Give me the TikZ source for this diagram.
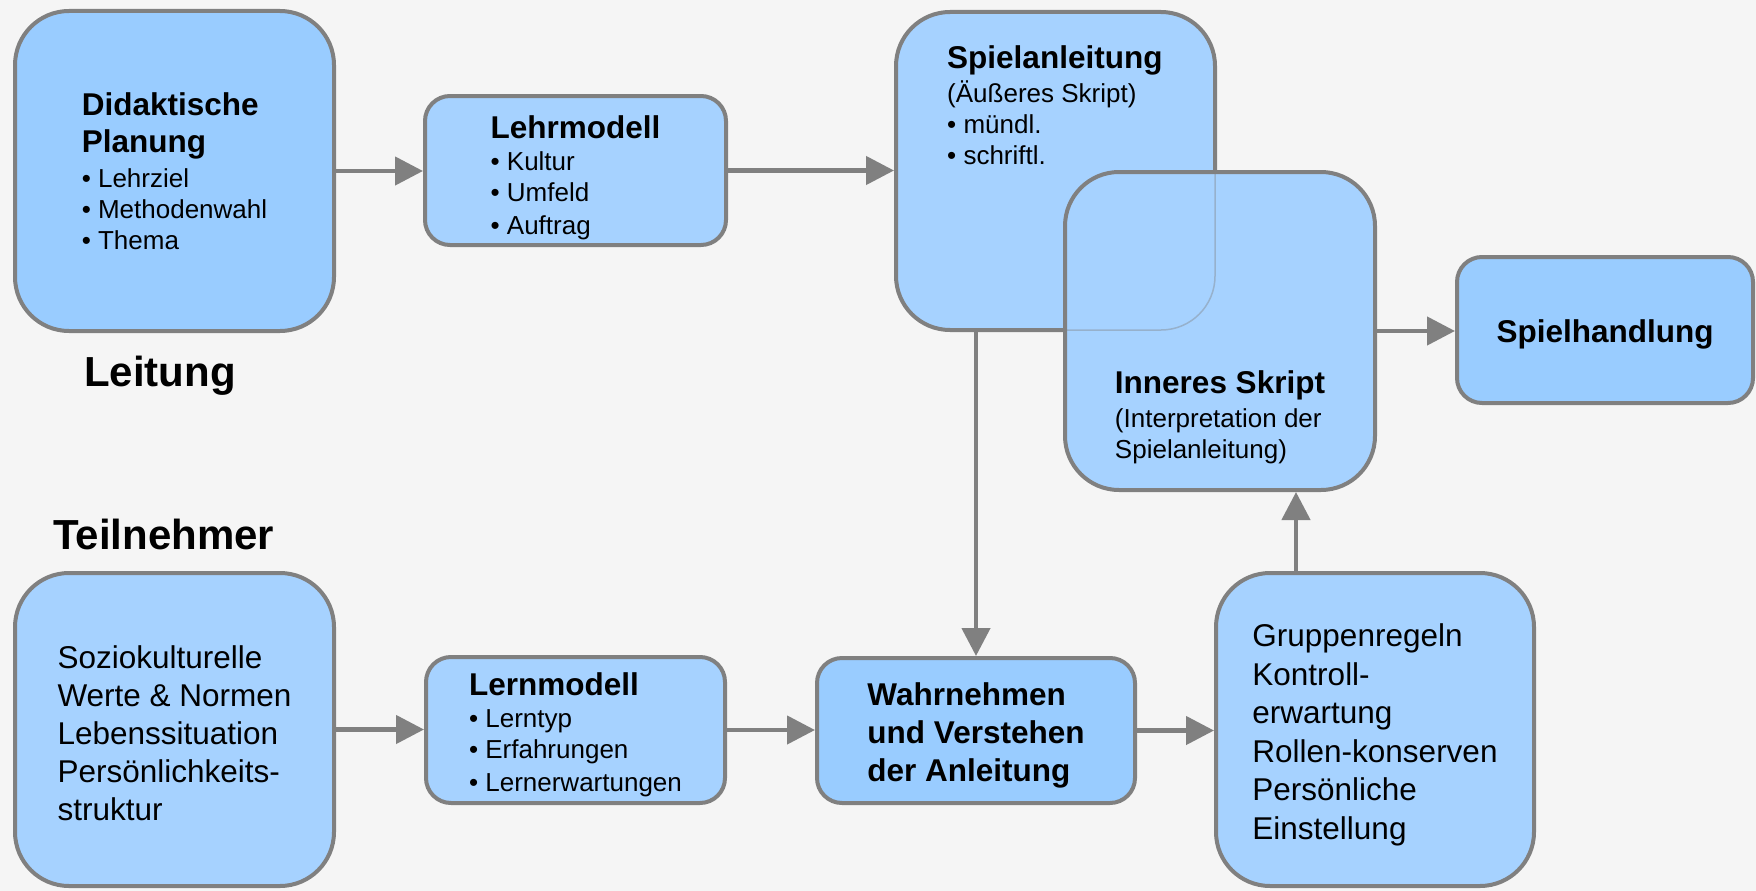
\documentclass[tikz,border=0pt]{standalone}
\usepackage{fontspec}
\setmainfont{Liberation Sans}
\usetikzlibrary{arrows.meta}

\definecolor{boxblue}{HTML}{99CCFF}
\definecolor{stripeblue}{HTML}{A6D2FF}
\definecolor{linegray}{HTML}{808080}
\definecolor{bggray}{HTML}{F5F5F5}

\newcommand{\sidefont}{\fontsize{42}{50}\selectfont\bfseries}
\newcommand{\headfont}{\fontsize{31.5}{38}\selectfont\bfseries}
\newcommand{\bodyfont}{\fontsize{31.5}{38}\selectfont}
\newcommand{\itemfont}{\fontsize{26}{31.2}\selectfont}
\newcommand{\topstrut}[1]{\rule{0pt}{#1}}

\tikzset{
  box/.style={draw=linegray, line width=4pt, rounded corners=25pt, inner sep=0pt, align=left},
  bigbox/.style={box, rounded corners=54pt},
  flatfill/.style={fill=boxblue},
  stripefill/.style={fill=stripeblue},
  arr/.style={draw=linegray, line width=4.5pt, -{Triangle[length=28pt,width=28pt]}},
  sidelabel/.style={anchor=base west, inner sep=0pt, font=\sidefont}
}

\begin{document}
\begin{tikzpicture}[x=1pt,y=-1pt]
\fill[bggray] (0,0) rectangle (1756,891);
\useasboundingbox (0,0) rectangle (1756,891);

\node[bigbox, flatfill, minimum width=319pt, minimum height=320pt, font=\itemfont] (plan) at (174.5,171)
  {\headfont Didaktische\\[5.8pt] \headfont Planung\\[3.8pt] \itemfont • Lehrziel\\ \itemfont • Methodenwahl\\ \itemfont • Thema};
\node[box, stripefill, minimum width=301pt, minimum height=149pt, font=\itemfont] (lehr) at (575.5,170.5)
  {\topstrut{37pt}\headfont Lehrmodell\\[1pt] \itemfont • Kultur\\ \itemfont • Umfeld\\[2pt] \itemfont • Auftrag};
\node[bigbox, stripefill, minimum width=319pt, minimum height=318pt] (spiel) at (1055.5,171) {};
\node[anchor=north west, inner sep=0pt, align=left, font=\itemfont] (spieltext) at (947,45)
  {\headfont Spielanleitung\\[3pt] \itemfont (Äußeres Skript)\\ \itemfont • mündl.\\ \itemfont • schriftl.};
\node[bigbox, stripefill, minimum width=310pt, minimum height=318pt] (inner) at (1220,331) {};
\begin{scope}
  \clip (1067,174) rectangle (1373,488);
  \draw[linegray, opacity=.4, line width=1.5pt, rounded corners=54pt]
    ([xshift=2pt,yshift=2pt]spiel.south west) rectangle ([xshift=-2pt,yshift=-2pt]spiel.north east);
\end{scope}
\node[anchor=south, inner sep=0pt, align=left, font=\itemfont] (innertext) at ([yshift=28pt]inner.south)
  {\headfont Inneres Skript\\[3pt] \itemfont (Interpretation der\\ \itemfont Spielanleitung)};
\node[box, flatfill, minimum width=296pt, minimum height=146pt, font=\headfont] (handl) at (1605,330)
  {\topstrut{32pt}Spielhandlung};

\node[sidelabel] (leitung) at (84,386) {Leitung};
\node[sidelabel] (teiln) at (53,549) {Teilnehmer};

\node[bigbox, stripefill, minimum width=319pt, minimum height=313pt, font=\bodyfont] (sozio) at (174.5,729.5)
  {\topstrut{30pt}Soziokulturelle\\ Werte \& Normen\\ Lebenssituation\\ Persönlichkeits-\\ struktur};
\node[box, stripefill, minimum width=299pt, minimum height=146pt, font=\itemfont] (lern) at (575.5,730)
  {\topstrut{32pt}\headfont Lernmodell\\[1.5pt] \itemfont • Lerntyp\\ \itemfont • Erfahrungen\\[1.5pt] \itemfont • Lernerwartungen};
\node[box, flatfill, minimum width=318pt, minimum height=145pt, font=\headfont] (wahr) at (976,730.5)
  {\topstrut{32pt}Wahrnehmen\\ und Verstehen\\ der Anleitung};
\node[bigbox, stripefill, minimum width=318pt, minimum height=313pt, font=\fontsize{31.5}{38.5}\selectfont] (gruppe) at (1375,729.5)
  {\topstrut{34pt}Gruppenregeln\\ Kontroll-\\ erwartung\\ Rollen-konserven\\ Persönliche\\ Einstellung};

\draw[arr] (plan.east) -- (plan.east -| lehr.west);
\draw[arr] (lehr.east) -- (lehr.east -| spiel.west);
\draw[arr] (inner.east) -- (inner.east -| handl.west);
\draw[arr] (sozio.east) -- (sozio.east -| lern.west);
\draw[arr] (lern.east) -- (lern.east -| wahr.west);
\draw[arr] (wahr.east) -- (wahr.east -| gruppe.west);
\draw[arr] (wahr.north |- spiel.south) -- (wahr.north);
\draw[arr] ([xshift=-79pt]gruppe.north) -- ([xshift=-79pt]gruppe.north |- inner.south);
\end{tikzpicture}
\end{document}
